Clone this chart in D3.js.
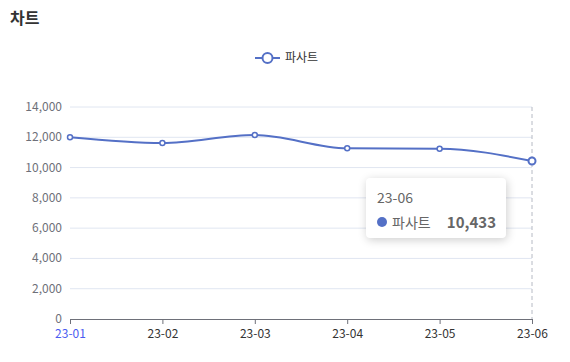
<!DOCTYPE html>
<html>
<head>
<meta charset="utf-8">
<script src="https://cdn.jsdelivr.net/npm/d3@7"></script>
<style>
  body { margin: 0; background: #fff; font-family: "Noto Sans CJK KR", "Noto Sans", sans-serif; }
  #chart { position: relative; width: 570px; height: 362px; }
  .tip {
    position: absolute; background: #fff; border-radius: 4px;
    box-shadow: 1px 2px 10px rgba(0,0,0,0.2); padding: 0;
  }
</style>
</head>
<body>
<div id="chart"></div>
<script>
const months = ['23-01', '23-02', '23-03', '23-04', '23-05', '23-06'];
const values = [12000, 11620, 12150, 11270, 11250, 10433];
const yTicks = [0, 2000, 4000, 6000, 8000, 10000, 12000, 14000];
const seriesName = '파사트';
const activeIndex = 5;

const width = 570, height = 362;
const margin = { top: 107, right: 38, bottom: 43, left: 70 };
const lineColor = '#5470c6';
const fontFamily = '"Noto Sans CJK KR", "Noto Sans", sans-serif';

const svg = d3.select('#chart').append('svg')
    .attr('width', width)
    .attr('height', height);

// Title
svg.append('text')
    .attr('x', 10).attr('y', 24)
    .style('font-family', fontFamily)
    .style('font-size', '16px')
    .style('font-weight', 'bold')
    .style('fill', '#333')
    .text('차트');

// Legend
const legend = svg.append('g').attr('transform', 'translate(255, 58)');
legend.append('line')
    .attr('x1', 0).attr('x2', 25)
    .attr('stroke', lineColor).attr('stroke-width', 2);
legend.append('circle')
    .attr('cx', 12.5).attr('r', 5)
    .attr('fill', '#fff').attr('stroke', lineColor).attr('stroke-width', 2);
legend.append('text')
    .attr('x', 30).attr('y', 4)
    .style('font-family', fontFamily)
    .style('font-size', '12px')
    .style('fill', '#333')
    .text(seriesName);

const x = d3.scalePoint()
    .domain(months)
    .range([margin.left, width - margin.right]);

const y = d3.scaleLinear()
    .domain([0, 14000])
    .range([height - margin.bottom, margin.top]);

// Grid lines
svg.append('g')
    .selectAll('line')
    .data(yTicks.filter(d => d > 0))
    .join('line')
    .attr('x1', margin.left).attr('x2', width - margin.right)
    .attr('y1', d => y(d)).attr('y2', d => y(d))
    .attr('stroke', '#e0e6f1');

// Y axis labels
svg.append('g')
    .selectAll('text')
    .data(yTicks)
    .join('text')
    .attr('x', margin.left - 8)
    .attr('y', d => y(d) + 4)
    .attr('text-anchor', 'end')
    .style('font-family', fontFamily)
    .style('font-size', '12px')
    .style('fill', '#6e7079')
    .text(d => d3.format(',')(d));

// Axis pointer
svg.append('line')
    .attr('x1', x(months[activeIndex])).attr('x2', x(months[activeIndex]))
    .attr('y1', y(14000)).attr('y2', y(0))
    .attr('stroke', '#b6bac4')
    .attr('stroke-dasharray', '4,3');

// X axis
const xAxis = svg.append('g')
    .attr('transform', `translate(0, ${y(0)})`)
    .call(d3.axisBottom(x).tickSize(5).tickSizeOuter(0));
xAxis.select('.domain').attr('stroke', '#6e7079');
xAxis.selectAll('.tick line').attr('stroke', '#6e7079');
xAxis.selectAll('.tick text')
    .attr('dy', '0.95em')
    .style('font-family', fontFamily)
    .style('font-size', '12px')
    .style('fill', (d, i) => i === 0 ? '#4a5cf0' : '#333');

// Line
const line = d3.line()
    .x((d, i) => x(months[i]))
    .y(d => y(d))
    .curve(d3.curveMonotoneX);

svg.append('path')
    .datum(values)
    .attr('d', line)
    .attr('fill', 'none')
    .attr('stroke', lineColor)
    .attr('stroke-width', 2);

svg.append('g')
    .selectAll('circle')
    .data(values)
    .join('circle')
    .attr('cx', (d, i) => x(months[i]))
    .attr('cy', d => y(d))
    .attr('r', (d, i) => i === activeIndex ? 3.5 : 2.5)
    .attr('fill', '#fff')
    .attr('stroke', lineColor)
    .attr('stroke-width', (d, i) => i === activeIndex ? 2 : 1.5);

// Tooltip
const tip = d3.select('#chart').append('div')
    .attr('class', 'tip')
    .style('left', '366px')
    .style('top', '178px')
    .style('width', '140px')
    .style('height', '60px');

tip.append('div')
    .style('position', 'absolute').style('left', '11px').style('top', '9px')
    .style('font-size', '14px').style('color', '#666')
    .style('font-family', fontFamily)
    .text(months[activeIndex]);

tip.append('div')
    .style('position', 'absolute').style('left', '11px').style('top', '39px')
    .style('width', '10px').style('height', '10px')
    .style('border-radius', '5px').style('background', lineColor);

tip.append('div')
    .style('position', 'absolute').style('left', '26px').style('top', '34px')
    .style('font-size', '14px').style('color', '#666')
    .style('font-family', fontFamily)
    .text(seriesName);

tip.append('div')
    .style('position', 'absolute').style('right', '10px').style('top', '33px')
    .style('font-size', '15px').style('color', '#666').style('font-weight', 'bold')
    .style('font-family', fontFamily)
    .text(d3.format(',')(values[activeIndex]));
</script>
</body>
</html>
